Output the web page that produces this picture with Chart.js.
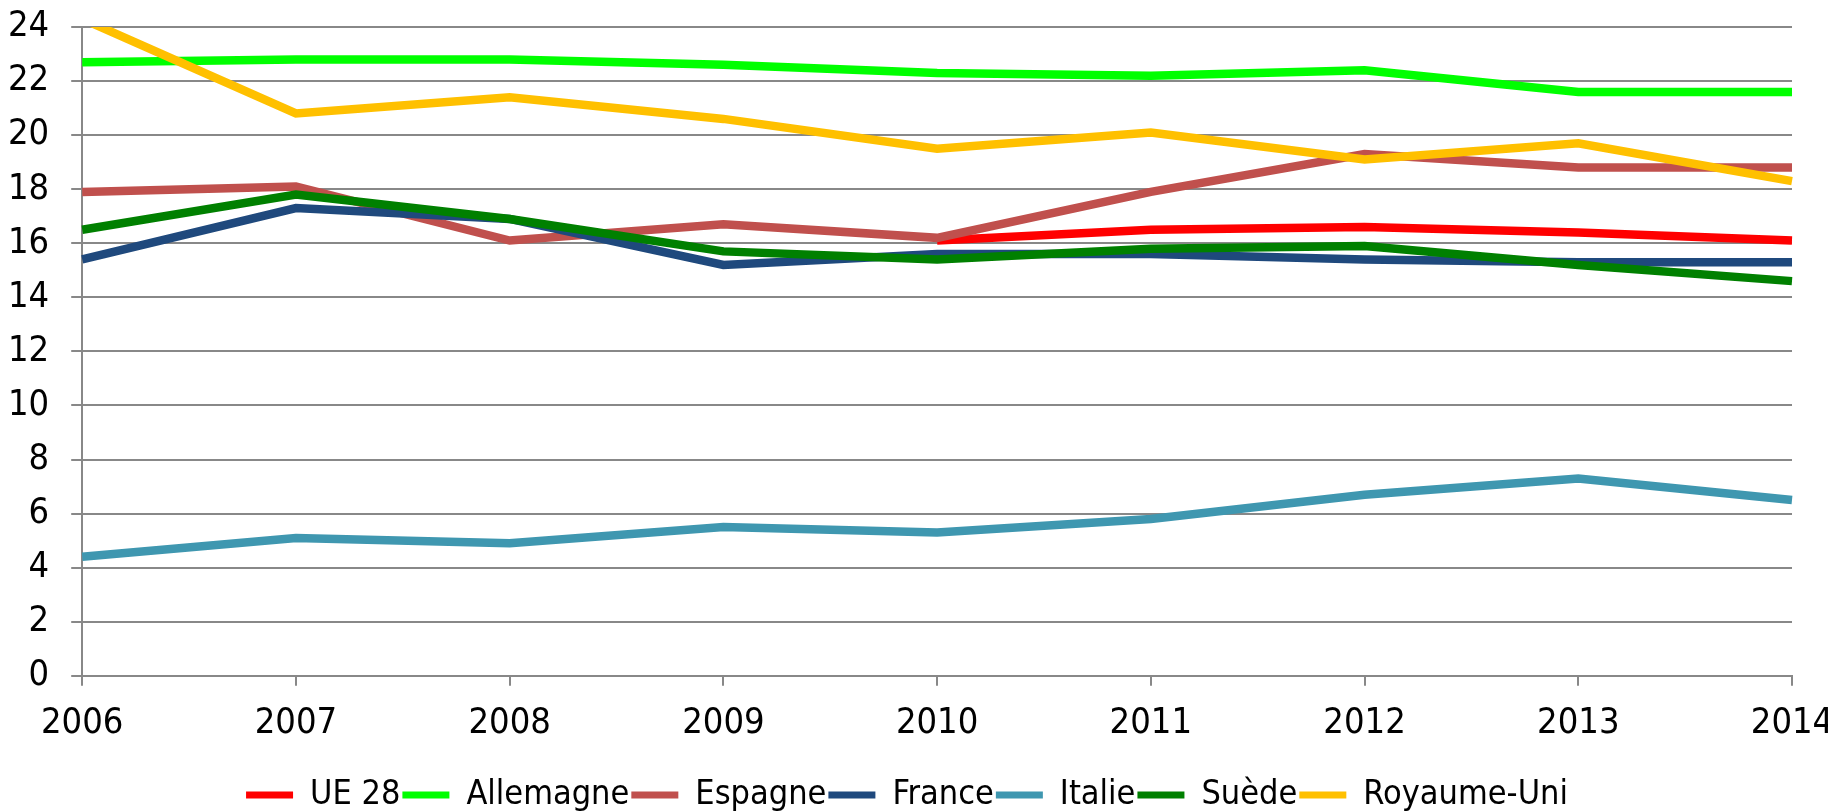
<!DOCTYPE html>
<html>
<head>
<meta charset="utf-8">
<script src="https://cdn.jsdelivr.net/npm/chart.js@4/dist/chart.umd.min.js"></script>
<style>
  html, body { margin: 0; padding: 0; background: #fff; }
  #wrap { width: 1828px; height: 811px; }
</style>
</head>
<body>
<div id="wrap"><canvas id="chart"></canvas></div>
<script>
const annees = ['2006', '2007', '2008', '2009', '2010', '2011', '2012', '2013', '2014'];

const ue28       = [null, null, null, null, 16.1, 16.5, 16.6, 16.4, 16.1];
const allemagne  = [22.7, 22.8, 22.8, 22.6, 22.3, 22.2, 22.4, 21.6, 21.6];
const espagne    = [17.9, 18.1, 16.1, 16.7, 16.2, 17.9, 19.3, 18.8, 18.8];
const france     = [15.4, 17.3, 16.9, 15.2, 15.6, 15.6, 15.4, 15.3, 15.3];
const italie     = [4.4, 5.1, 4.9, 5.5, 5.3, 5.8, 6.7, 7.3, 6.5];
const suede      = [16.5, 17.8, 16.9, 15.7, 15.4, 15.8, 15.9, 15.2, 14.6];
const royaumeUni = [24.3, 20.8, 21.4, 20.6, 19.5, 20.1, 19.1, 19.7, 18.3];

const yTicks = [0, 2, 4, 6, 8, 10, 12, 14, 16, 18, 20, 22, 24];

// police étroite (pas d'Arial Narrow ici)
const FONT = "'DejaVu Sans Condensed', 'Liberation Sans', sans-serif";
Chart.defaults.font.family = FONT;
Chart.defaults.font.style = 'condensed';
Chart.defaults.color = '#000';

function serie(label, data, color, order) {
  return {
    label: label,
    data: data,
    borderColor: color,
    backgroundColor: color,
    borderWidth: 8.5,
    pointRadius: 0,
    tension: 0,
    borderCapStyle: 'butt',
    borderJoinStyle: 'miter',
    order: order
  };
}

new Chart(document.getElementById('chart'), {
  type: 'line',
  data: {
    labels: annees,
    datasets: [
      serie('UE 28', ue28, '#FF0000', 7),
      serie('Allemagne', allemagne, '#00FF00', 6),
      serie('Espagne', espagne, '#C0504D', 5),
      serie('France', france, '#1F497D', 4),
      serie('Italie', italie, '#3F97B0', 3),
      serie('Suède', suede, '#008000', 2),
      serie('Royaume-Uni', royaumeUni, '#FFC000', 1)
    ]
  },
  options: {
    responsive: true,
    maintainAspectRatio: false,
    animation: false,
    layout: { padding: { top: 0, right: 0, left: -14, bottom: -11 } },
    scales: {
      x: {
        offset: false,
        grid: {
          drawOnChartArea: false,
          color: '#888888',
          lineWidth: 2,
          tickLength: 10
        },
        border: { color: '#888888', width: 2 },
        ticks: { font: { size: 36 }, padding: 16, maxRotation: 0 },
        afterFit: axis => {
          axis.height += 15;
          axis.paddingRight = 36;
        }
      },
      y: {
        min: 0,
        max: 24,
        afterBuildTicks: axis => { axis.ticks = yTicks.map(v => ({ value: v })); },
        grid: { color: '#888888', lineWidth: 2, tickLength: 11 },
        border: { color: '#888888', width: 2 },
        ticks: { font: { size: 36 }, padding: 22 },
        afterFit: axis => { axis.paddingTop = 27; }
      }
    },
    plugins: {
      tooltip: { enabled: false },
      legend: {
        position: 'bottom',
        labels: {
          font: { size: 34 },
          boxWidth: 47,
          boxHeight: 7,
          padding: 2,
          useBorderRadius: true,
          borderRadius: 3,
          sort: (a, b) => a.datasetIndex - b.datasetIndex,
          generateLabels: chart => chart.data.datasets.map((ds, i) => ({
            text: ds.label,
            fillStyle: ds.borderColor,
            strokeStyle: ds.borderColor,
            lineWidth: 0,
            hidden: false,
            datasetIndex: i,
            fontColor: '#000'
          }))
        }
      }
    }
  }
});
</script>
</body>
</html>
